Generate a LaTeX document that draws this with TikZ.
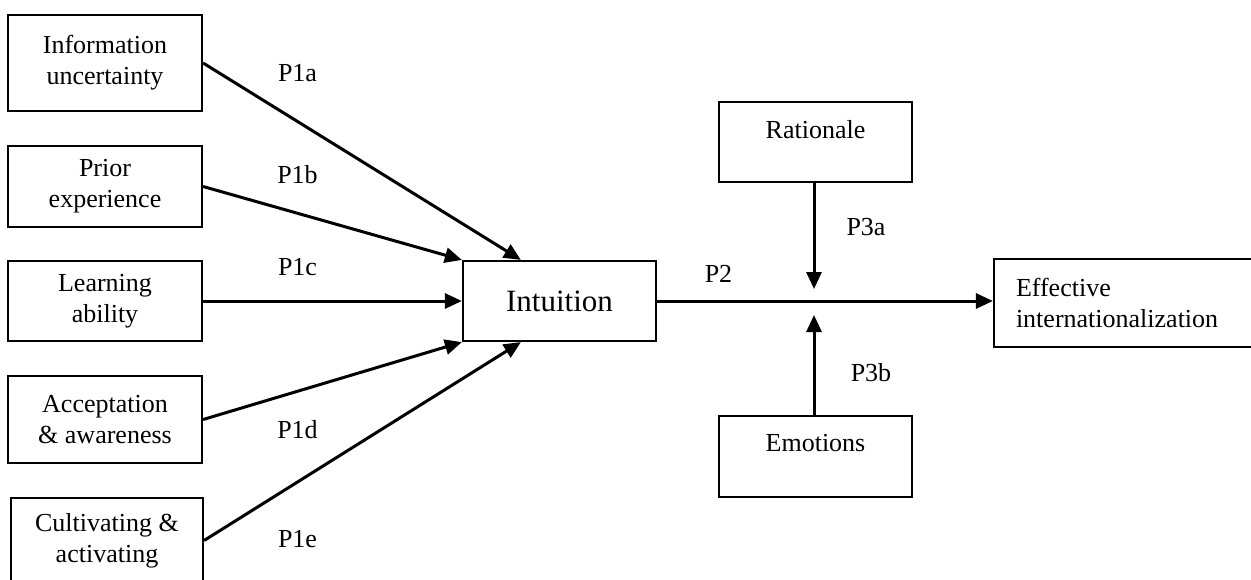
\documentclass[tikz,border=0pt]{standalone}
\usepackage{fontspec}
\setmainfont{Liberation Serif}
\usetikzlibrary{arrows.meta}
\begin{document}
\begin{tikzpicture}[x=1pt,y=-1pt,
  box/.style={draw, line width=2.2pt, align=center, inner sep=2pt,
    font=\fontsize{26}{31}\selectfont},
  lab/.style={inner sep=0pt, font=\fontsize{26}{31}\selectfont},
  arr/.style={line width=3pt, -{Triangle[length=17pt,width=15pt]}}]
\clip (0,0) rectangle (1251,579);
% left boxes
\node[box, minimum width=194pt, minimum height=96pt] (b1) at (105,63) {Information\\uncertainty};
\node[box, minimum width=194pt, minimum height=81pt] (b2) at (105,186.5) {Prior\\experience};
\node[box, minimum width=194pt, minimum height=80pt] (b3) at (105,301) {Learning\\ability};
\node[box, minimum width=194pt, minimum height=87pt] (b4) at (105,419.5) {Acceptation\\\&~awareness};
\node[box, minimum width=192pt, minimum height=85pt] (b5) at (107,540.5) {Cultivating \&\\activating};
% centre
\node[box, minimum width=193pt, minimum height=80pt, font=\fontsize{31}{37}\selectfont] (int) at (559.5,301) {Intuition};
% moderators
\node[box, minimum width=193pt, minimum height=80pt] (rat) at (815.5,142) {};
\node[lab] (ratT) at (815.5,130) {Rationale};
\node[box, minimum width=193pt, minimum height=81pt] (emo) at (815.5,456.5) {};
\node[lab] (emoT) at (815.5,443) {Emotions};
% outcome
\node[box, minimum width=266pt, minimum height=88pt, text width=222pt, inner xsep=22pt, align=left] (eff) at (1127,303) {Effective\\internationalization};
% coordinates for arrow tips near the main path
\coordinate (m1) at (814,289);
\coordinate (m2) at (814,315);
% connectors
\draw[arr] (b1.east) -- ([xshift=59pt]int.north west);
\draw[arr] (b2.east) -- (int.north west);
\draw[arr] (b3.east) -- (int.west);
\draw[arr] (b4.east) -- (int.south west);
\draw[arr] (b5.east) -- ([xshift=59pt]int.south west);
\draw[arr] (int.east) -- (int.east -| eff.west);
\draw[arr] (rat.south -| m1) -- (m1);
\draw[arr] (emo.north -| m2) -- (m2);
% labels
\node[lab] (l1a) at (297.5,73) {P1a};
\node[lab] (l1b) at (297.5,175) {P1b};
\node[lab] (l1c) at (297.5,267) {P1c};
\node[lab] (l1d) at (297.5,430) {P1d};
\node[lab] (l1e) at (297.5,539) {P1e};
\node[lab] (l2) at (718.5,274) {P2};
\node[lab] (l3a) at (866,227) {P3a};
\node[lab] (l3b) at (871,373) {P3b};
\end{tikzpicture}
\end{document}
